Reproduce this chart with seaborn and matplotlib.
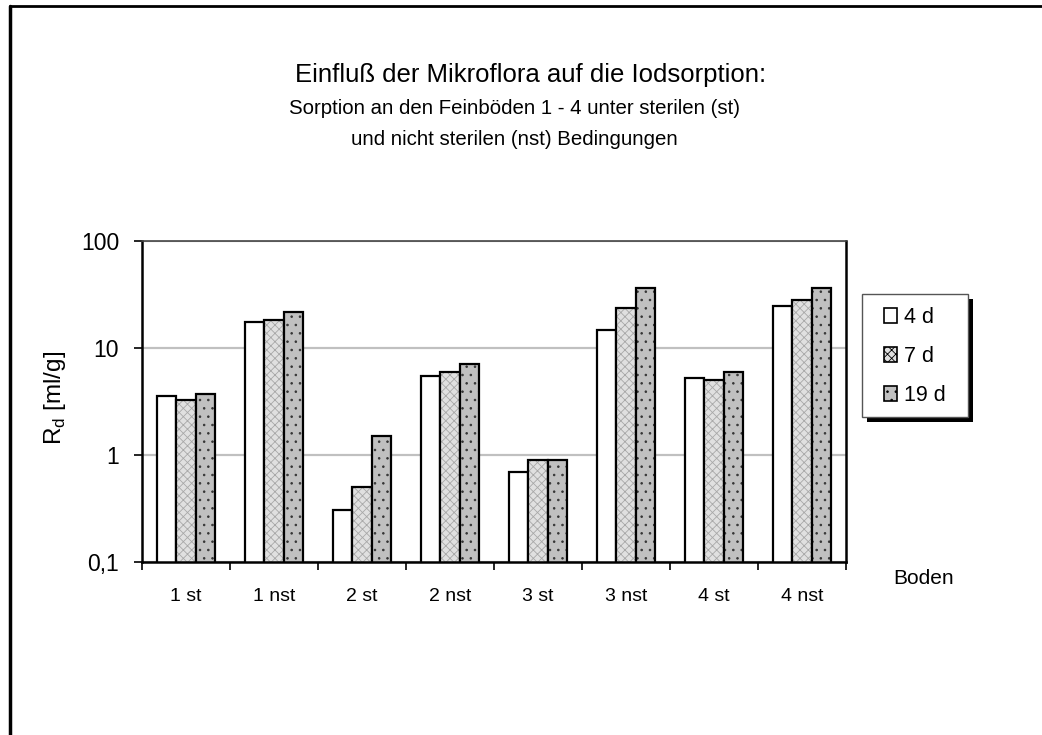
import numpy as np
import pandas as pd
import seaborn as sns
import matplotlib.pyplot as plt
from matplotlib.colors import to_rgba
from matplotlib.lines import Line2D
from matplotlib.patches import Rectangle
from matplotlib.ticker import FixedLocator, NullLocator

# data (Rd in ml/g, log scale)
categories = ["1 st", "1 nst", "2 st", "2 nst", "3 st", "3 nst", "4 st", "4 nst"]
series = ["4 d", "7 d", "19 d"]
rd_4d = [3.58, 17.6, 0.306, 5.47, 0.69, 14.7, 5.24, 24.7]
rd_7d = [3.27, 18.3, 0.506, 5.97, 0.90, 23.6, 4.99, 27.9]
rd_19d = [3.71, 21.7, 1.51, 7.08, 0.90, 36.3, 5.97, 36.3]
ytick_vals = [0.1, 1, 10, 100]
ytick_labels = ["0,1", "1", "10", "100"]

df = pd.DataFrame({
    "Boden": categories * 3,
    "Zeit": [s for s in series for _ in categories],
    "Rd": rd_4d + rd_7d + rd_19d,
})

sns.set_theme(style="white")
plt.rcParams["font.family"] = ["Liberation Sans", "DejaVu Sans"]
plt.rcParams["mathtext.fontset"] = "custom"
plt.rcParams["mathtext.rm"] = "Liberation Sans"
plt.rcParams["hatch.linewidth"] = 0.6
for key in ["text.color", "axes.labelcolor", "xtick.color", "ytick.color"]:
    plt.rcParams[key] = "black"

W, H = 1042, 735
fig = plt.figure(figsize=(W / 100, H / 100), dpi=100)
ax = fig.add_axes([142 / W, 1 - 562 / H, 704 / W, 321 / H])

face = {"4 d": "white", "7 d": "#e0e0e0", "19 d": "#c0c0c0"}
sns.barplot(data=df, x="Boden", y="Rd", hue="Zeit", order=categories,
            hue_order=series, palette=face, width=0.67, saturation=1,
            edgecolor="black", linewidth=1.6, ax=ax, legend=False)
ax.set_yscale("log")
ax.set_ylim(0.1, 100)

# patterns
hatches = {"4 d": "", "7 d": "xxxx", "19 d": ".."}
hatch_col = {"4 d": "black", "7 d": "#a8a8a8", "19 d": "#333333"}
for cont, s in zip(ax.containers, series):
    for bar in cont:
        bar.set_hatch(hatches[s])
        bar._hatch_color = to_rgba(hatch_col[s])

ax.yaxis.set_major_locator(FixedLocator(ytick_vals))
ax.yaxis.set_minor_locator(NullLocator())
ax.set_yticklabels(ytick_labels)
ax.set_xticks(np.arange(-0.5, len(categories), 1), minor=False)
ax.set_xticklabels([])
ax.set_xticks(np.arange(len(categories)), minor=True)
ax.set_xticklabels(categories, minor=True)
ax.set_xlim(-0.5, len(categories) - 0.5)
ax.tick_params(axis="x", which="major", direction="out", length=6, width=1.2,
               color="black", bottom=True)
ax.tick_params(axis="x", which="minor", length=0, labelsize=14, pad=19)
ax.tick_params(axis="y", which="major", direction="out", length=6, width=1.2,
               color="black", left=True, labelsize=16.5, pad=10.5)
ax.grid(axis="y", color="#c0c0c0", linewidth=1.6)
ax.set_axisbelow(True)
for side in ["left", "right", "bottom"]:
    ax.spines[side].set_color("black")
    ax.spines[side].set_linewidth(1.8)
ax.spines["top"].set_color("#444444")
ax.spines["top"].set_linewidth(1.2)

ax.set_xlabel("")
ax.set_ylabel(r"R$_\mathrm{d}$ [ml/g]", fontsize=17.5)
ax.yaxis.set_label_coords(-0.105, 0.51)

fig.text(0.886, 0.213, "Boden", fontsize=15, ha="center", va="center")

fig.text(0.509, 0.898, "Einfluß der Mikroflora auf die Iodsorption:",
         fontsize=18.5, ha="center", va="center")
fig.text(0.494, 0.853, "Sorption an den Feinböden 1 - 4 unter sterilen (st)",
         fontsize=14.7, ha="center", va="center")
fig.text(0.494, 0.81, "und nicht sterilen (nst) Bedingungen",
         fontsize=14.7, ha="center", va="center")

# legend: box with drop shadow, entries placed inside
fx, fy, fw, fh = 862, 294, 106, 123
fig.add_artist(Rectangle(((fx + 5) / W, 1 - (fy + fh + 5) / H), fw / W, fh / H,
                         transform=fig.transFigure, facecolor="black",
                         edgecolor="none", zorder=4))
fig.add_artist(Rectangle((fx / W, 1 - (fy + fh) / H), fw / W, fh / H,
                         transform=fig.transFigure, facecolor="white",
                         edgecolor="#555555", linewidth=1.0, zorder=4.5))
handles = [Rectangle((0, 0), 1, 1, facecolor=face[s], edgecolor="black",
                     linewidth=1.2, hatch=hatches[s]) for s in series]
leg = fig.legend(handles, series, loc="upper left",
                 bbox_to_anchor=(884 / W, 1 - 307 / H), fontsize=15.5,
                 handlelength=0.62, handleheight=0.68, handletextpad=0.3,
                 labelspacing=0.84, borderpad=0, borderaxespad=0,
                 frameon=False)
leg.set_zorder(5)

# outer chart frame
fig.add_artist(Line2D([10 / W, 10 / W], [0, 1 - 6 / H],
                      transform=fig.transFigure, color="black", linewidth=2.5))
fig.add_artist(Line2D([10 / W, 1], [1 - 6 / H, 1 - 6 / H],
                      transform=fig.transFigure, color="black", linewidth=2))

fig.savefig("out.png", dpi=100)
